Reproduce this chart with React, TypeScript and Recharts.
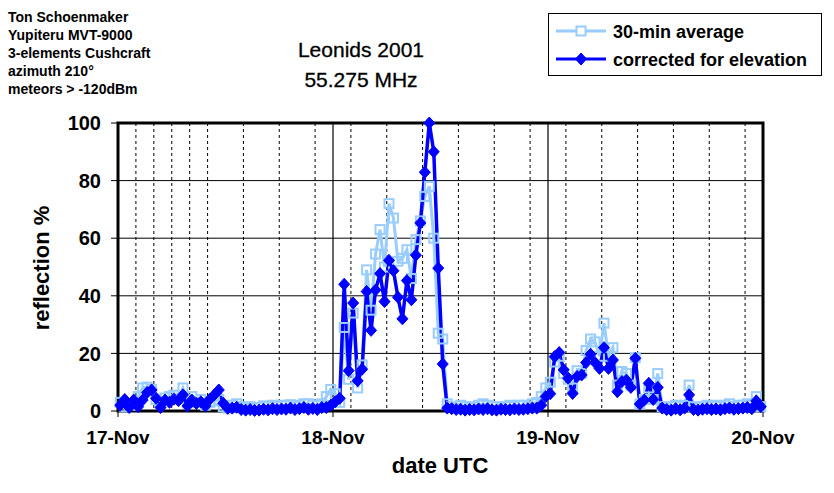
import React from "react";
import { LineChart, Line, XAxis, YAxis, CartesianGrid, ReferenceArea } from "recharts";

// ---- tick labels / categories ----
const dayLabels = ["17-Nov", "18-Nov", "19-Nov", "20-Nov"];
const dayTicks = [0, 24, 48, 72];
const dayBoundaryHours = [24, 48];
const twoHourMarks = [
  2, 4, 6, 8, 10, 12, 14, 16, 18, 20, 22,
  26, 28, 30, 32, 34, 36, 38, 40, 42, 44, 46,
  50, 52, 54, 56, 58, 60, 62, 64, 66, 68, 70,
];
const yTicks = [0, 20, 40, 60, 80, 100];

// ---- 30-min average (reflection %), half-hour bins per day ----
const avg17 = [
  3, 1.5, 2.5, 2, 5, 8, 8.3, 7.5, 4, 3, 4.5, 5, 5.5, 4.5, 8, 4, 5, 3, 4, 2, 3, 3.5, 4, 1.5,
  1, 2, 2.5, 1.5, 1, 1.5, 1, 1.2, 1.8, 1.5, 2, 1.5, 2, 1.8, 2.2, 1.5, 2, 2.5, 2.5, 2, 2, 2.5, 5, 7.5,
];
const avg18 = [
  6, 3, 29, 11, 34, 8, 16, 49, 35, 54.5, 63, 50, 72, 67, 52, 53, 56, 46, 59.5, 66, 74.5, 78, 60, 27,
  25, 2.5, 1.5, 1, 2, 1.5, 1, 1.5, 2, 2.5, 2, 1.5, 1.5, 1, 1.5, 2, 1.5, 2, 2, 1.5, 2.5, 3, 5, 8,
];
const avg19 = [
  10, 17, 19, 13, 11, 8, 14, 13, 21, 25, 24, 19, 30.5, 19, 22, 9, 13.7, 13, 9, 18.5, 2.4, 4, 8, 4,
  13, 1.5, 1, 1.5, 2, 1.5, 2, 9, 1.5, 1, 1.5, 2, 1.5, 2, 1.5, 2, 2.5, 1.5, 2, 2, 2.5, 2, 5, 1.5,
];

// ---- corrected for elevation ----
const corr17 = [
  2, 4, 1.2, 3.8, 1.5, 3.8, 6.4, 7.3, 4.4, 1.2, 3.8, 3, 4.1, 3.6, 5.6, 1.7, 3.8, 2.6, 3.2, 1.7, 4.1, 5.6, 7.3, 2.7,
  0.9, 1, 1.3, 0.5, 0.3, 0.5, 0.2, 0.3, 0.6, 0.4, 0.8, 0.5, 0.7, 0.6, 1, 0.5, 0.8, 1.2, 0.6, 0.9, 0.5, 1.2, 1.2, 2,
];
const corr18 = [
  3.2, 4.4, 44, 14, 37.5, 10.5, 14.5, 41.5, 28, 42, 47.7, 38, 52.3, 48.7, 39.5, 32, 45.3, 38.6, 54.1, 65.3, 82.9, 100, 90, 49.6,
  16.3, 1, 0.8, 0.5, 0.6, 0.3, 0.5, 0.4, 0.7, 0.5, 0.8, 0.4, 0.3, 0.6, 0.5, 0.4, 0.7, 0.5, 0.6, 0.8, 1, 1, 2, 5,
];
const corr19 = [
  6, 18.9, 20.3, 14.3, 11.4, 6.1, 12, 12.5, 16.8, 19.7, 16.8, 14.8, 22, 14.8, 17.7, 6.7, 10.2, 10.7, 8.2, 18.3, 2.4, 3.8, 9.6, 4,
  8.2, 1, 0.5, 0.3, 0.8, 0.4, 1, 5.6, 0.5, 0.3, 0.6, 0.8, 0.5, 0.7, 0.4, 0.8, 1, 0.6, 0.8, 1, 1.2, 0.8, 3.5, 1.5,
];

const infoLines = [
  "Ton Schoenmaker",
  "Yupiteru MVT-9000",
  "3-elements Cushcraft",
  "azimuth 210°",
  "meteors > -120dBm",
];

const avgAll = [...avg17, ...avg18, ...avg19];
const corrAll = [...corr17, ...corr18, ...corr19];
// bins are centred on :15 and :45 of each hour
const data = avgAll.map((v, i) => ({ h: 0.25 + i * 0.5, avg: v, corr: corrAll[i] }));

const LIGHT = "#99CCFF";
const DARK = "#0000FF";
const FONT = 'Arial, "Liberation Sans", Helvetica, sans-serif';

const SquareDot = (props: any) => {
  const { cx, cy, index } = props;
  if (cx == null || cy == null) return <g key={`s${index}`} />;
  return (
    <rect key={`s${index}`} x={cx - 4.5} y={cy - 4.5} width={9} height={9} fill="none" stroke={LIGHT} strokeWidth={2} />
  );
};

const DiamondDot = (props: any) => {
  const { cx, cy, index } = props;
  if (cx == null || cy == null) return <g key={`d${index}`} />;
  return (
    <polygon
      key={`d${index}`}
      points={`${cx},${cy - 6} ${cx + 5.5},${cy} ${cx},${cy + 6} ${cx - 5.5},${cy}`}
      fill={DARK}
      stroke={DARK}
      strokeWidth={1}
    />
  );
};

const tickStyle = { fill: "#000", fontSize: 19, fontWeight: "bold" as const, fontFamily: FONT };

export default function App() {
  return (
    <div
      style={{
        position: "absolute",
        left: 0,
        top: 0,
        width: 834,
        height: 493,
        background: "#fff",
        fontFamily: FONT,
        color: "#000",
        overflow: "hidden",
      }}
    >
      <LineChart width={834} height={493} data={data} margin={{ top: 123, right: 71, bottom: 0, left: 0 }}>
        <XAxis xAxisId="dash" type="number" dataKey="h" domain={[0, 72]} ticks={twoHourMarks} hide />
        <XAxis xAxisId="day" type="number" dataKey="h" domain={[0, 72]} ticks={dayBoundaryHours} hide />
        <CartesianGrid xAxisId="dash" horizontal={false} stroke="#000" strokeOpacity={1} strokeDasharray="3 3" />
        <CartesianGrid xAxisId="day" horizontal={false} stroke="#000" strokeOpacity={1} strokeWidth={1.2} />
        <CartesianGrid vertical={false} stroke="#000" strokeOpacity={1} />
        <XAxis
          type="number"
          dataKey="h"
          domain={[0, 72]}
          ticks={dayTicks}
          interval={0}
          tickFormatter={(v: number) => dayLabels[dayTicks.indexOf(v)]}
          height={82}
          axisLine={false}
          tickLine={{ stroke: "#000", strokeWidth: 1 }}
          tickSize={6}
          tickMargin={14}
          tick={tickStyle}
        />
        <YAxis
          type="number"
          domain={[0, 100]}
          ticks={yTicks}
          interval={0}
          width={118}
          axisLine={false}
          tickLine={{ stroke: "#000", strokeWidth: 1 }}
          tickSize={7}
          tickMargin={10}
          tick={{ ...tickStyle, fontSize: 20 }}
        />
        <ReferenceArea x1={0} x2={72} y1={0} y2={100} fill="none" fillOpacity={0} stroke="#000" strokeWidth={3} />
        <Line
          type="linear"
          dataKey="avg"
          stroke={LIGHT}
          strokeWidth={3}
          dot={SquareDot}
          activeDot={false}
          isAnimationActive={false}
        />
        <Line
          type="linear"
          dataKey="corr"
          stroke={DARK}
          strokeWidth={3.5}
          dot={DiamondDot}
          activeDot={false}
          isAnimationActive={false}
        />
      </LineChart>

      {/* top-left info */}
      <div
        style={{
          position: "absolute",
          left: 8,
          top: 8,
          fontSize: 14,
          fontWeight: "bold",
          lineHeight: "18px",
          whiteSpace: "nowrap",
        }}
      >
        {infoLines.map((t) => (
          <div key={t}>{t}</div>
        ))}
      </div>

      {/* title */}
      <div
        style={{
          position: "absolute",
          left: 261,
          width: 200,
          top: 35,
          textAlign: "center",
          fontSize: 21,
          lineHeight: "30px",
          whiteSpace: "nowrap",
          WebkitTextStroke: "0.3px #000",
        }}
      >
        <div>Leonids 2001</div>
        <div>55.275 MHz</div>
      </div>

      {/* legend */}
      <div
        style={{
          position: "absolute",
          left: 548,
          top: 13,
          width: 272,
          height: 61,
          border: "1px solid #000",
          background: "#fff",
        }}
      >
        <svg width={60} height={61} style={{ position: "absolute", left: 3, top: 0 }}>
          <line x1={4} y1={17} x2={54} y2={17} stroke={LIGHT} strokeWidth={3} />
          <rect x={24.5} y={12.5} width={9} height={9} fill="#fff" stroke={LIGHT} strokeWidth={2} />
          <line x1={4} y1={45} x2={54} y2={45} stroke={DARK} strokeWidth={3} />
          <polygon points="29,39 34.5,45 29,51 23.5,45" fill={DARK} stroke={DARK} strokeWidth={1} />
        </svg>
        <div
          style={{
            position: "absolute",
            left: 64,
            top: 4,
            fontSize: 18,
            fontWeight: "bold",
            lineHeight: "28px",
            whiteSpace: "nowrap",
          }}
        >
          <div>30-min average</div>
          <div>corrected for elevation</div>
        </div>
      </div>

      {/* axis titles */}
      <div
        style={{
          position: "absolute",
          left: 42,
          top: 268,
          transform: "translate(-50%, -50%) rotate(-90deg)",
          fontSize: 22,
          fontWeight: "bold",
          lineHeight: 1,
          whiteSpace: "nowrap",
        }}
      >
        reflection %
      </div>
      <div
        style={{
          position: "absolute",
          left: 440,
          top: 466,
          transform: "translate(-50%, -50%)",
          fontSize: 22,
          fontWeight: "bold",
          lineHeight: 1,
          whiteSpace: "nowrap",
        }}
      >
        date UTC
      </div>
    </div>
  );
}
